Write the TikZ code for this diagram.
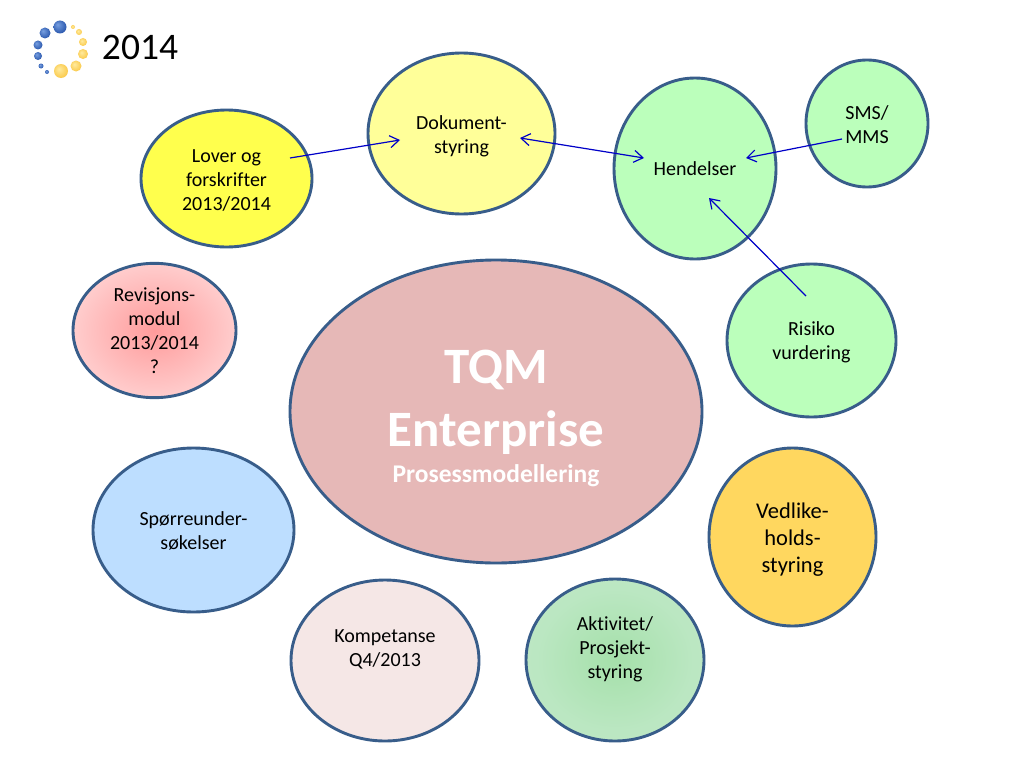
\documentclass[tikz,border=0pt]{standalone}
\usepackage{fontspec}
\setmainfont{Carlito}[Ligatures=CommonOff]
\usetikzlibrary{shapes.geometric,arrows.meta}
\definecolor{rimblue}{HTML}{385D8A}
\definecolor{arrowblue}{HTML}{0000C8}
\definecolor{lawyellow}{HTML}{FFFF4D}
\definecolor{docyellow}{HTML}{FFFF99}
\definecolor{mint}{HTML}{BBFFBB}
\definecolor{rose}{HTML}{E6B8B7}
\definecolor{sky}{HTML}{BDDEFF}
\definecolor{amber}{HTML}{FFD75F}
\definecolor{blush}{HTML}{F5E7E6}
\definecolor{redA}{RGB}{255,155,155}
\definecolor{redB}{RGB}{255,205,205}
\definecolor{redC}{RGB}{255,235,235}
\definecolor{grnA}{RGB}{165,224,170}
\definecolor{grnB}{RGB}{187,231,194}
\definecolor{grnC}{RGB}{194,232,200}
\definecolor{grnD}{RGB}{228,244,231}
\definecolor{bluA}{RGB}{120,160,225}
\definecolor{bluB}{RGB}{45,90,175}
\definecolor{bluC}{RGB}{70,110,190}
\definecolor{golA}{RGB}{255,235,160}
\definecolor{golB}{RGB}{250,200,70}
\definecolor{golC}{RGB}{248,205,90}
\pgfdeclareradialshading{redglow}{\pgfpoint{0bp}{0bp}}{color(0bp)=(redA);color(25bp)=(redB);color(50bp)=(redC)}
\pgfdeclareradialshading{greenglow}{\pgfpoint{0bp}{0bp}}{color(0bp)=(grnA);color(22bp)=(grnB);color(45bp)=(grnC);color(50bp)=(grnD)}
\pgfdeclareradialshading{blueball}{\pgfpoint{-10bp}{10bp}}{color(0bp)=(bluA);color(28bp)=(bluB);color(50bp)=(bluC)}
\pgfdeclareradialshading{goldball}{\pgfpoint{-8bp}{8bp}}{color(0bp)=(golA);color(30bp)=(golB);color(50bp)=(golC)}
\newcommand{\topfix}[1][21pt]{\rule{0pt}{#1}}
\tikzset{
  bubble/.style={ellipse,draw=rimblue,line width=2.9pt,inner sep=0pt,align=center,text=black,font=\fontsize{20}{24}\selectfont,
    execute at end node={\rule[-4.4pt]{0pt}{4.4pt}}},
  flow/.style={draw=arrowblue,line width=1.2pt},
  bluedot/.style={circle,inner sep=0pt,shading=blueball},
  golddot/.style={circle,inner sep=0pt,shading=goldball},
  >={Straight Barb[length=9pt,width=12pt]}
}
\begin{document}
\begin{tikzpicture}[x=1pt,y=-1pt]
\useasboundingbox (0,0) rectangle (1024,768);
\fill[white] (0,0) rectangle (1024,768);
% logo
\foreach \n/\px/\py/\d in {b1/60/27/13,b2/45/33/11,b3/38/45/9,b4/38/56/8,b5/41/66/5,b6/47/72/4}{
  \node[bluedot,minimum size=\d pt] (\n) at (\px,\py) {};}
\foreach \n/\px/\py/\d in {g1/61/71/14,g2/76/66/11,g3/83/54/10,g4/83/42/8,g5/79/32/6,g6/73/27/4}{
  \node[golddot,minimum size=\d pt] (\n) at (\px,\py) {};}
\node[anchor=center,font=\fontsize{37.5}{40}\selectfont] (year) at (140,47) {2014};
% bubbles
\node[bubble,fill=lawyellow,minimum width=171pt,minimum height=137pt] (lover) at (226.5,178.5) {\topfix Lover og\\forskrifter\\2013/2014};
\node[bubble,fill=docyellow,minimum width=187pt,minimum height=161pt] (dok) at (461.5,133.5) {\topfix Dokument-\\styring};
\node[bubble,fill=mint,minimum width=162pt,minimum height=181pt] (hend) at (695,168.5) {\topfix[19pt]Hendelser};
\node[bubble,fill=mint,minimum width=122pt,minimum height=127pt] (sms) at (867,123.5) {\topfix SMS/\\MMS};
\node[bubble,fill=mint,minimum width=169pt,minimum height=153pt] (risiko) at (811.5,340.5) {\topfix[19pt]Risiko\\vurdering};
\node[bubble,shading=redglow,minimum width=163pt,minimum height=133pt,execute at end node={}] (rev) at (154.5,330.5) {\topfix[18.6pt]Revisjons-\\modul\\2013/2014\\?};
\node[bubble,fill=rose,minimum width=412pt,minimum height=303pt,text=white,font=\bfseries\fontsize{51}{63}\selectfont,
  execute at end node={}] (tqm) at (496,411.5) {%
  \topfix[48pt]TQM\\Enterprise\\[-27pt]\fontsize{25.5}{30}\selectfont Prosessmodellering};
\node[bubble,fill=sky,minimum width=201pt,minimum height=164pt] (sporre) at (193.5,530) {\topfix[19pt]Spørreunder-\\søkelser};
\node[bubble,fill=amber,minimum width=167pt,minimum height=178pt,font=\fontsize{22.5}{27}\selectfont] (vedl) at (792.5,537) {\topfix Vedlike-\\holds-\\styring};
\node[bubble,fill=blush,minimum width=188pt,minimum height=161pt] (komp) at (385,660.5) {\topfix[17pt]Kompetanse\\Q4/2013\\\mbox{}};
\node[bubble,shading=greenglow,minimum width=178pt,minimum height=162pt] (akt) at (615,660) {\topfix[17pt]Aktivitet/\\Prosjekt-\\styring\\\mbox{}};
% connector ends
\coordinate (loverS) at (290,158);
\coordinate (dokW) at (400,140);
\coordinate (dokE) at (520,138);
\coordinate (hendW) at (644,158);
\coordinate (hendE) at (746,158);
\coordinate (smsS) at (842,139);
\coordinate (hendS) at (709,198);
\coordinate (risN) at (806,296);
\draw[flow,->] (loverS) -- (dokW);
\draw[flow,<->] (dokE) -- (hendW);
\draw[flow,->] (smsS) -- (hendE);
\draw[flow,->] (risN) -- (hendS);
\end{tikzpicture}
\end{document}
